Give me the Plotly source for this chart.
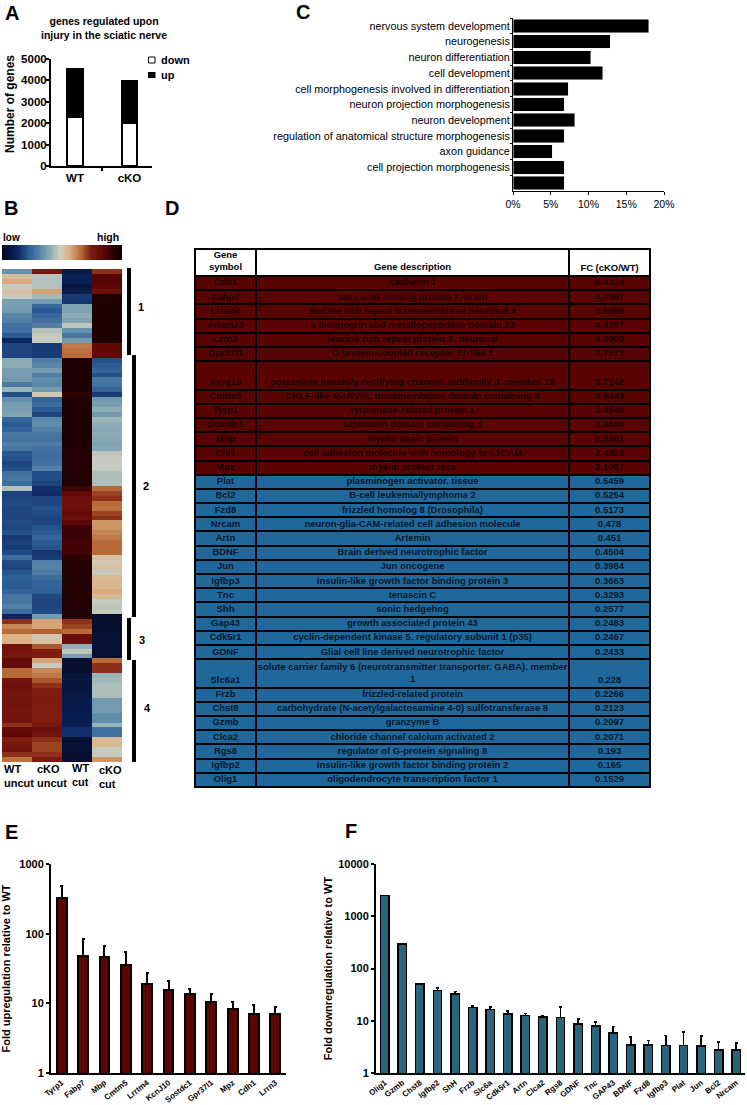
import plotly.graph_objects as go
import numpy as np

W, H = 747, 1105
FONT = "Liberation Sans"

# panel A
a_groups = ["WT", "cKO"]
a_down = [2270, 2010]
a_up = [2240, 1980]

# panel C
c_terms = ["nervous system development", "neurogenesis", "neuron differentiation", "cell development",
           "cell morphogenesis involved in differentiation", "neuron projection morphogenesis",
           "neuron development", "regulation of anatomical structure morphogenesis", "axon guidance",
           "cell projection morphogenesis", " "]
c_pct = [18.0, 12.9, 10.3, 11.9, 7.3, 6.8, 8.2, 6.8, 5.2, 6.8, 6.8]
c_ticks = [0, 5, 10, 15, 20]
c_ticktext = ["0%", "5%", "10%", "15%", "20%"]

# panel B, one value per row on the low-high scale
b_columns = ["WT<br>uncut", "cKO<br>uncut", "WT<br>cut", "cKO<br>cut"]
b_wt_uncut = [34, 53, 57, 47, 52, 47, 37, 37, 36, 32, 30, 27, 27, 22, 12, 18, 18, 18,
              40, 40, 37, 37, 36, 29, 42, 20, 34, 36, 37, 38, 24, 22, 24, 28, 27, 30, 28, 21, 20, 18, 20, 27, 28, 26, 45, 18,
              18, 19, 18, 18, 18, 19, 18, 20, 16, 17, 16, 19, 26, 19, 18, 21, 23, 22, 22, 24, 28, 28, 30, 26,
              12, 72, 62, 66, 56, 56, 78, 77, 76,
              83, 82, 66, 66, 78, 80, 78, 77, 78, 78, 77, 78, 77, 72, 82, 84, 74, 76, 78, 72, 65]
b_cko_uncut = [77, 45, 45, 45, 58, 43, 36, 25, 22, 25, 27, 30, 45, 47, 47, 16, 16, 16,
               30, 32, 36, 30, 33, 32, 36, 50, 24, 26, 22, 18, 32, 33, 31, 28, 27, 29, 27, 26, 26, 27, 30, 20, 20, 18, 14, 13,
               18, 18, 20, 19, 18, 18, 20, 22, 24, 22, 21, 15, 16, 30, 31, 29, 26, 24, 24, 23, 19, 18, 18, 19,
               36, 58, 58, 67, 50, 52, 68, 74, 74,
               58, 47, 62, 64, 68, 72, 74, 74, 75, 74, 74, 74, 74, 76, 80, 78, 72, 70, 70, 72, 74]
b_wt_cut = [7, 10, 10, 6, 8, 16, 15, 38, 38, 40, 38, 46, 34, 28, 36, 64, 65, 66,
            96, 96, 96, 96, 96, 96, 96, 92, 95, 96, 96, 96, 96, 96, 96, 96, 96, 96, 95, 95, 95, 95, 95, 95, 95, 95, 90, 82,
            80, 80, 80, 82, 80, 84, 90, 90, 90, 89, 89, 89, 92, 94, 94, 94, 94, 94, 94, 94, 94, 95, 95, 95,
            95, 72, 70, 66, 80, 80, 41, 46, 37,
            3, 3, 3, 5, 6, 6, 6, 7, 8, 8, 8, 9, 9, 10, 14, 14, 4, 4, 4, 3, 3]
b_cko_cut = [72, 85, 86, 84, 80, 96, 96, 96, 96, 96, 96, 96, 96, 96, 96, 83, 83, 84,
             20, 22, 24, 20, 28, 27, 24, 16, 36, 37, 40, 36, 42, 40, 39, 40, 39, 38, 39, 46, 47, 47, 47, 44, 44, 44, 66, 70,
             72, 66, 65, 70, 72, 60, 60, 62, 64, 66, 66, 66, 52, 50, 52, 47, 54, 55, 55, 57, 54, 47, 46, 47,
             3, 3, 3, 3, 4, 4, 4, 4, 3,
             66, 72, 72, 42, 43, 44, 44, 44, 36, 36, 36, 33, 33, 42, 27, 27, 54, 54, 47, 47, 60]
b_scale_steps = list(range(0, 101))

heat_scale = [[0, "#040820"], [0.12, "#0b2560"], [0.22, "#2a5b95"], [0.33, "#5f8cab"], [0.42, "#9ab5b8"],
              [0.48, "#cfcdbf"], [0.56, "#dcb186"], [0.66, "#b86b38"], [0.74, "#7e1c10"], [0.85, "#5a0505"],
              [0.93, "#2a0303"], [1, "#0d0000"]]

# panel D
d_symbols = ["Cdh1", "Fabp7", "Lrrtm4", "Adam23", "Lrrn3", "Gpr37l1", "Kcnj10", "Cmtm5", "Tyrp1", "Sostdc1", "Mbp",
             "Chl1", "Mpz", "Plat", "Bcl2", "Fzd8", "Nrcam", "Artn", "BDNF", "Jun", "Igfbp3", "Tnc", "Shh", "Gap43",
             "Cdk5r1", "GDNF", "Slc6a1", "Frzb", "Chst8", "Gzmb", "Clca2", "Rgs8", "Igfbp2", "Olig1"]
d_descriptions = ["cadherin 1", "fatty acid binding protein 7. brain", "leucine rich repeat transmembrane neuronal 4",
                  "a disintegrin and metallopeptidase domain 23", "leucine rich repeat protein 3. neuronal",
                  "G protein-coupled receptor 37-like 1",
                  "potassium inwardly-rectifying channel. subfamily J. member 10",
                  "CKLF-like MARVEL transmembrane domain containing 5", "tyrosinase-related protein 1",
                  "sclerostin domain containing 1", "myelin basic protein",
                  "cell adhesion molecule with homology to L1CAM", "myelin protein zero",
                  "plasminogen activator. tissue", "B-cell leukemia/lymphoma 2", "frizzled homolog 8 (Drosophila)",
                  "neuron-glia-CAM-related cell adhesion molecule", "Artemin", "Brain derived neurotrophic factor",
                  "Jun oncogene", "insulin-like growth factor binding protein 3", "tenascin C", "sonic hedgehog",
                  "growth associated protein 43", "cyclin-dependent kinase 5. regulatory subunit 1 (p35)",
                  "Glial cell line derived neurotrophic factor",
                  "solute carrier family 6 (neurotransmitter transporter. GABA). member<br>1",
                  "frizzled-related protein", "carbohydrate (N-acetylgalactosamine 4-0) sulfotransferase 8",
                  "granzyme B", "chloride channel calcium activated 2", "regulator of G-protein signaling 8",
                  "insulin-like growth factor binding protein 2", "oligodendrocyte transcription factor 1"]
d_fc = ["5.4324", "4.7987", "4.6086", "4.3207", "4.0908", "3.7271", "3.7242", "3.5443", "3.4946", "3.4844", "2.2401",
        "2.4822", "2.1057", "0.5459", "0.5254", "0.5173", "0.478", "0.451", "0.4504", "0.3984", "0.3663", "0.3293",
        "0.2577", "0.2483", "0.2467", "0.2433", "0.228", "0.2266", "0.2123", "0.2097", "0.2071", "0.193", "0.165",
        "0.1529"]
d_up_rows = 13
d_tall_rows = ["Kcnj10", "Slc6a1"]

# panel E
e_genes = ["Tyrp1", "Fabp7", "Mbp", "Cmtm5", "Lrrtm4", "KcnJ10", "Sostdc1", "Gpr37l1", "Mpz", "Cdh1", "Lrrn3"]
e_fold = [320, 48, 47, 36, 19, 15.3, 13.7, 10.6, 8.3, 7, 7]
e_err = [167, 37, 20, 19, 8, 5.7, 2.6, 3.2, 2, 2.6, 2]

# panel F
f_genes = ["Olig1", "Gzmb", "Chst8", "Igfbp2", "ShH", "Frzb", "Slc6a", "Cdk5r1", "Artn", "Clca2", "Rgs8", "GDNF", "Tnc",
           "GAP43", "BDNF", "Fzd8", "Igfbp3", "Plat", "Jun", "Bcl2", "Nrcam"]
f_fold = [2497, 294, 50, 38, 32.6, 18, 16.3, 13.4, 12.7, 11.9, 11.6, 8.75, 8, 5.8, 3.45, 3.45, 3.35, 3.35, 3.3, 2.77, 2.77]
f_err = [0, 0, 1, 4.5, 4, 1, 2, 1.9, 1.1, 0.4, 6.7, 2.05, 1.4, 1.9, 1.4, 0.75, 1.85, 2.7, 1.77, 1.18, 0.95]


def px(x):  # pixel to paper
    return x / W


def py(y):
    return 1 - y / H


def xdom(a, b):
    return [px(a), px(b)]


def ydom(top, bottom):
    return [py(bottom), py(top)]


def label(x, y, text, size=11, xanchor="center", align="center", bold=True):
    return dict(x=px(x), y=py(y), xref="paper", yref="paper", text=text, showarrow=False, xanchor=xanchor,
                yanchor="middle", align=align, font=dict(family=FONT, size=size, color="black",
                                                         weight="bold" if bold else "normal"))


def box(x0, y0, x1, y1, fill="black", line="black", width=0):
    return dict(type="rect", xref="paper", yref="paper", x0=px(x0), x1=px(x1), y0=py(y0), y1=py(y1), fillcolor=fill,
                line=dict(color=line, width=width))


bold = dict(family=FONT, size=11.5, color="black", weight="bold")
bold_log = dict(family=FONT, size=11, color="black", weight="bold")
bold_gene = dict(family=FONT, size=8, color="black", weight="bold")
fig = go.Figure()

# A
fig.add_bar(x=a_groups, y=a_down, name="down", width=0.28, marker=dict(color="white", line=dict(color="black", width=2)),
            xaxis="x", yaxis="y")
fig.add_bar(x=a_groups, y=a_up, name="up", width=0.28, marker=dict(color="black", line=dict(color="black", width=2)),
            xaxis="x", yaxis="y")
# C
fig.add_bar(y=c_terms, x=c_pct, orientation="h", width=0.86, marker=dict(color="black"), xaxis="x2", yaxis="y2")
# B
heat_cols = np.array([b_wt_uncut, b_cko_uncut, b_wt_cut, b_cko_cut]).T
fig.add_heatmap(z=heat_cols, colorscale=heat_scale, zmin=0, zmax=100, showscale=False, xaxis="x3", yaxis="y3")
fig.add_heatmap(z=[b_scale_steps], colorscale=heat_scale, zmin=0, zmax=100, showscale=False, xaxis="x7", yaxis="y7",
                hoverinfo="skip")
# D, row heights in body-row units
row_units = [1.9] + [2 if s in d_tall_rows else 1 for s in d_symbols]
y_edges = np.cumsum([0] + row_units)
x_edges = [0, 61, 374, 455]
cell_kind = [[0, 0, 0]] + [[1, 1, 1] if i < d_up_rows else [2, 2, 2] for i in range(len(d_symbols))]
fig.add_heatmap(x=x_edges, y=y_edges, z=cell_kind, colorscale=[[0, "white"], [0.5, "#5a0303"], [1, "#20689c"]],
                zmin=0, zmax=2, showscale=False, xgap=2, ygap=2, xaxis="x6", yaxis="y6", hoverinfo="skip")
body_mid = (y_edges[1:-1] + y_edges[2:]) / 2
single_y = [m + 0.5 if s in d_tall_rows else m for m, s in zip(body_mid, d_symbols)]
desc_y = [m if "<br>" in t else y for m, y, t in zip(body_mid, single_y, d_descriptions)]
text_colors = ["#1c0000"] * d_up_rows + ["#06192b"] * (len(d_symbols) - d_up_rows)
for cx, ys, texts in [(30.5, single_y, d_symbols), (217.5, desc_y, d_descriptions), (414.5, single_y, d_fc)]:
    fig.add_scatter(x=[cx] * len(ys), y=ys, text=texts, mode="text", xaxis="x6", yaxis="y6", hoverinfo="skip",
                    textposition="middle center",
                    textfont=dict(family=FONT, size=9.45, color=text_colors, weight="bold"))
fig.add_scatter(x=[30.5, 217.5, 414.5], y=[0.9, 1.3, 1.35], text=["Gene<br>symbol", "Gene description", "FC (cKO/WT)"],
                mode="text", xaxis="x6", yaxis="y6", hoverinfo="skip", textposition="middle center",
                textfont=dict(family=FONT, size=9.45, color="black", weight="bold"))
# E
fig.add_bar(x=e_genes, y=e_fold, width=0.46, marker=dict(color="#5c0505", line=dict(color="black", width=2)),
            error_y=dict(type="data", symmetric=False, array=e_err, arrayminus=[0] * len(e_err), color="black",
                         thickness=2, width=1.5), xaxis="x4", yaxis="y4")
# F
fig.add_bar(x=f_genes, y=f_fold, width=0.48, marker=dict(color="#29657a", line=dict(color="black", width=1.5)),
            error_y=dict(type="data", symmetric=False, array=f_err, arrayminus=[0] * len(f_err), color="black",
                         thickness=1.5, width=1.5), xaxis="x5", yaxis="y5")

common = dict(showgrid=False, zeroline=False, showline=True, linecolor="black", ticks="outside", tickcolor="black")
hidden = dict(visible=False, showgrid=False, zeroline=False)
fig.update_layout(
    width=W, height=H, autosize=False, margin=dict(l=0, r=0, t=0, b=0, autoexpand=False), paper_bgcolor="white",
    plot_bgcolor="white", barmode="stack", showlegend=False, font=dict(family=FONT, color="black"),
    xaxis=dict(common, domain=xdom(51, 152), linewidth=2, ticklen=3, tickwidth=2, tickson="boundaries", tickfont=bold,
               range=[-0.44, 1.413], anchor="y"),
    yaxis=dict(common, domain=ydom(59, 166), linewidth=2, ticklen=3, tickwidth=2, tickfont=bold, range=[0, 5000],
               tickvals=[0, 1000, 2000, 3000, 4000, 5000], anchor="x", ticklabelstandoff=-3),
    xaxis2=dict(common, domain=xdom(513, 664), linewidth=1, ticklen=3, tickvals=c_ticks, ticktext=c_ticktext,
                range=[0, 20], anchor="y2", tickfont=dict(family=FONT, size=10.5, color="black")),
    yaxis2=dict(common, domain=ydom(18, 191), linewidth=1, ticklen=2, tickson="boundaries", autorange="reversed",
                anchor="x2", categoryorder="array", categoryarray=c_terms,
                tickfont=dict(family=FONT, size=10.8, color="black")),
    xaxis3=dict(hidden, domain=xdom(2, 122)),
    yaxis3=dict(hidden, domain=ydom(269, 762), autorange="reversed"),
    xaxis7=dict(hidden, domain=xdom(2, 122)),
    yaxis7=dict(hidden, domain=ydom(245, 260)),
    xaxis6=dict(hidden, domain=xdom(195, 650), range=[0, 455]),
    yaxis6=dict(hidden, domain=ydom(249, 787), range=[float(y_edges[-1]), 0]),
    xaxis4=dict(common, domain=xdom(51, 286), linewidth=2, ticks="", range=[-0.5, 10.5], anchor="y4", tickangle=-38,
                tickfont=bold_gene),
    yaxis4=dict(common, domain=ydom(864, 1073), type="log", range=[0, 3], linewidth=2, ticklen=3, tickwidth=2, anchor="x4",
                tickvals=[1, 10, 100, 1000], ticktext=["1", "10", "100", "1000"], tickfont=bold_log,
                title=dict(text="Fold upregulation relative to WT", standoff=6, font=bold_log)),
    xaxis5=dict(common, domain=xdom(376, 745), linewidth=2, ticks="", range=[-0.5, 20.5], anchor="y5", tickangle=-38,
                tickfont=bold_gene),
    yaxis5=dict(common, domain=ydom(864, 1073), type="log", range=[0, 4], linewidth=2, ticklen=3, tickwidth=2, anchor="x5",
                tickvals=[1, 10, 100, 1000, 10000], ticktext=["1", "10", "100", "1000", "10000"], tickfont=bold_log,
                title=dict(text="Fold downregulation relative to WT", standoff=3, font=bold_log)),
)

notes = [
    label(12, 13, "A", 20), label(303, 12, "C", 20), label(11, 208, "B", 20), label(172, 208, "D", 20),
    label(12, 832, "E", 20), label(351, 831, "F", 20),
    label(104, 28, "genes regulated upon<br>injury in the sciatic nerve", 10.5),
    label(10, 104, "Number of genes", 12),
    label(159, 60, "down", 11, "left"), label(159, 75, "up", 11, "left"),
    label(1, 237, "low", 10, "left"), label(121, 237, "high", 10.5, "right"),
    label(141, 307, "1"), label(146, 486, "2"), label(142, 640, "3"), label(147, 708, "4"),
    label(2, 776, b_columns[0], 11, "left", "left"), label(35, 776, b_columns[1], 11, "left", "left"),
    label(70, 775, b_columns[2], 11, "left", "left"), label(97, 777, b_columns[3], 11, "left", "left"),
]
notes[7]["textangle"] = -90
fig.update_layout(annotations=notes)

shapes = [
    box(148.5, 57, 155, 63, "white", "black", 1), box(148, 72, 155.5, 78),
    box(127, 268, 131, 355), box(132, 355, 136, 617), box(127, 618, 131, 660), box(132, 660, 136, 762),
]
# black behind the D cells shows through their gaps as the grid
shapes.append(dict(box(194, 248, 651, 788), layer="below"))
fig.update_layout(shapes=shapes)

fig.write_html("out.html", config=dict(displayModeBar=False), post_script="document.body.style.margin='0'")
